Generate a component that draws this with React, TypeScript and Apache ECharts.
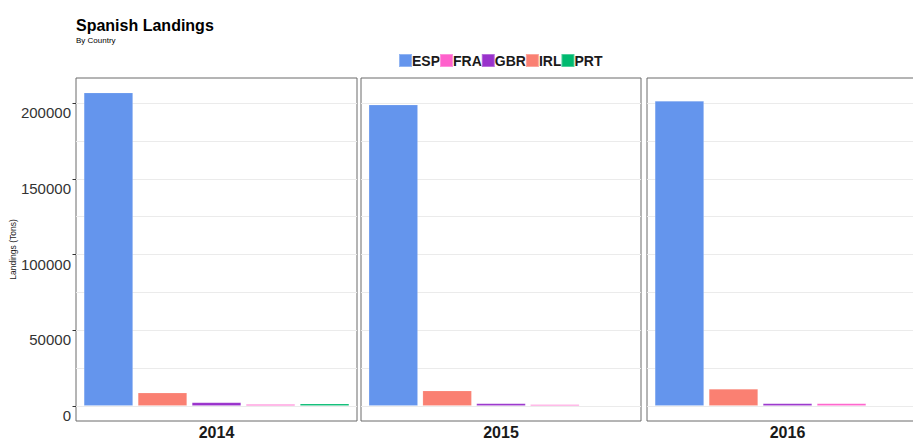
import React, { useEffect, useRef } from "react";
import * as echarts from "echarts";

const years = ["2014", "2015", "2016"];
const countries = ["ESP", "FRA", "GBR", "IRL", "PRT"];
const countryColors = ["#6495ED", "#FF61CC", "#9932CC", "#FA8072", "#00BA70"];
// order of the bars inside each panel
const barOrder = ["ESP", "IRL", "GBR", "FRA", "PRT"];
const espTons = [207000, 199000, 201500];
const fraTons = [1000, 900, 1500];
const gbrTons = [2200, 1500, 1500];
const irlTons = [8600, 10000, 11100];
const prtTons: (number | null)[] = [1300, null, null];
const yTicks = [0, 50000, 100000, 150000, 200000];

const FONT = "'Liberation Sans', Arial, Helvetica, sans-serif";

export default function App() {
  const ref = useRef<HTMLDivElement>(null);
  useEffect(() => {
    if (!ref.current) return;
    const chart = echarts.init(ref.current, undefined, { renderer: "svg" });
    const valuesByCountry: Record<string, (number | null)[]> = {
      ESP: espTons,
      FRA: fraTons,
      GBR: gbrTons,
      IRL: irlTons,
      PRT: prtTons,
    };
    const panelLeft = [76, 361, 647];
    const panelWidth = [281, 280, 281];
    const frameTop = 78;
    const frameHeight = 343;
    const innerTop = 103.3;
    const innerHeight = 302.5;
    const nSlots = barOrder.length;

    const grids: any[] = [];
    const xAxes: any[] = [];
    const yAxes: any[] = [];
    const series: any[] = [];

    years.forEach((yr, g) => {
      grids.push({
        left: panelLeft[g],
        top: innerTop,
        width: panelWidth[g],
        height: innerHeight,
        containLabel: false,
        outerBoundsMode: "none",
        show: false,
      });
      xAxes.push({
        type: "value",
        gridIndex: g,
        min: -0.6,
        max: nSlots - 1 + 0.6,
        show: false,
        axisLine: { show: false, onZero: false },
        axisTick: { show: false },
        axisLabel: { show: false },
        splitLine: { show: false },
      });
      yAxes.push({
        type: "value",
        gridIndex: g,
        position: "left",
        min: yTicks[0],
        max: yTicks[yTicks.length - 1],
        interval: yTicks[1] - yTicks[0],
        axisLine: { show: false, onZero: false },
        axisTick: {
          show: g === 0,
          length: 3.5,
          lineStyle: { color: "#333333", width: 1 },
        },
        axisLabel: {
          show: g === 0,
          fontSize: 15,
          color: "#333333",
          fontFamily: FONT,
          margin: 5,
          verticalAlign: "top",
          padding: [2, 0, 0, 0],
          formatter: (v: number) => String(v),
        },
        splitLine: { show: true, lineStyle: { color: "#ebebeb", width: 1 } },
        minorTick: { show: false, splitNumber: 2 },
        minorSplitLine: { show: true, lineStyle: { color: "#ebebeb", width: 1 } },
      });
      countries.forEach((c, ci) => {
        const v = valuesByCountry[c][g];
        if (v === null || v === undefined) return;
        series.push({
          type: "bar",
          name: c,
          xAxisIndex: g,
          yAxisIndex: g,
          data: [[barOrder.indexOf(c), v]],
          barWidth: 49,
          barGap: "-100%",
          clip: false,
          itemStyle: {
            color: countryColors[ci],
            borderColor: "rgba(255,255,255,0.3)",
            borderWidth: 0.5,
          },
        });
      });
    });

    years.forEach((yr, g) => {
      const gi = years.length + g;
      grids.push({
        left: panelLeft[g],
        top: frameTop,
        width: panelWidth[g],
        height: frameHeight,
        containLabel: false,
        outerBoundsMode: "none",
        show: true,
        backgroundColor: "transparent",
        borderColor: "#6a6a6a",
        borderWidth: 1,
      });
      xAxes.push({
        type: "value",
        gridIndex: gi,
        min: 0,
        max: 1,
        axisLine: { show: false, onZero: false },
        axisTick: { show: false },
        axisLabel: { show: false },
        splitLine: { show: false },
        name: yr,
        nameLocation: "middle",
        nameGap: 3,
        nameTextStyle: {
          fontSize: 16,
          fontWeight: "bold",
          color: "#1a1a1a",
          fontFamily: FONT,
          verticalAlign: "top",
        },
      });
      yAxes.push({
        type: "value",
        gridIndex: gi,
        min: 0,
        max: 1,
        show: false,
        axisLine: { show: false, onZero: false },
        axisTick: { show: false },
        axisLabel: { show: false },
        splitLine: { show: false },
      });
    });

    chart.setOption({
      animation: false,
      backgroundColor: "#ffffff",
      title: {
        text: "Spanish Landings",
        subtext: "By Country",
        left: 76,
        top: 17,
        padding: 0,
        itemGap: 3,
        textStyle: { fontSize: 16, fontWeight: "bold", color: "#000000", fontFamily: FONT },
        subtextStyle: { fontSize: 8, color: "#000000", fontFamily: FONT },
      },
      legend: {
        data: countries,
        left: 398,
        top: 53,
        padding: 0,
        icon: "rect",
        itemWidth: 13,
        itemHeight: 13,
        itemGap: -1,
        textStyle: {
          fontSize: 14,
          fontWeight: "bold",
          color: "#1a1a1a",
          fontFamily: FONT,
          padding: [0, 0, 0, -5],
        },
      },
      graphic: [
        {
          type: "text",
          x: 13,
          y: 249.5,
          rotation: Math.PI / 2,
          style: {
            text: "Landings (Tons)",
            fontSize: 8.5,
            fontFamily: FONT,
            fill: "#1a1a1a",
            align: "center",
            verticalAlign: "middle",
          },
        },
      ],
      grid: grids,
      xAxis: xAxes,
      yAxis: yAxes,
      series,
    });
    return () => chart.dispose();
  }, []);
  return (
    <div
      ref={ref}
      style={{ position: "fixed", left: 0, top: 0, width: 913, height: 439, background: "#fff" }}
    />
  );
}
